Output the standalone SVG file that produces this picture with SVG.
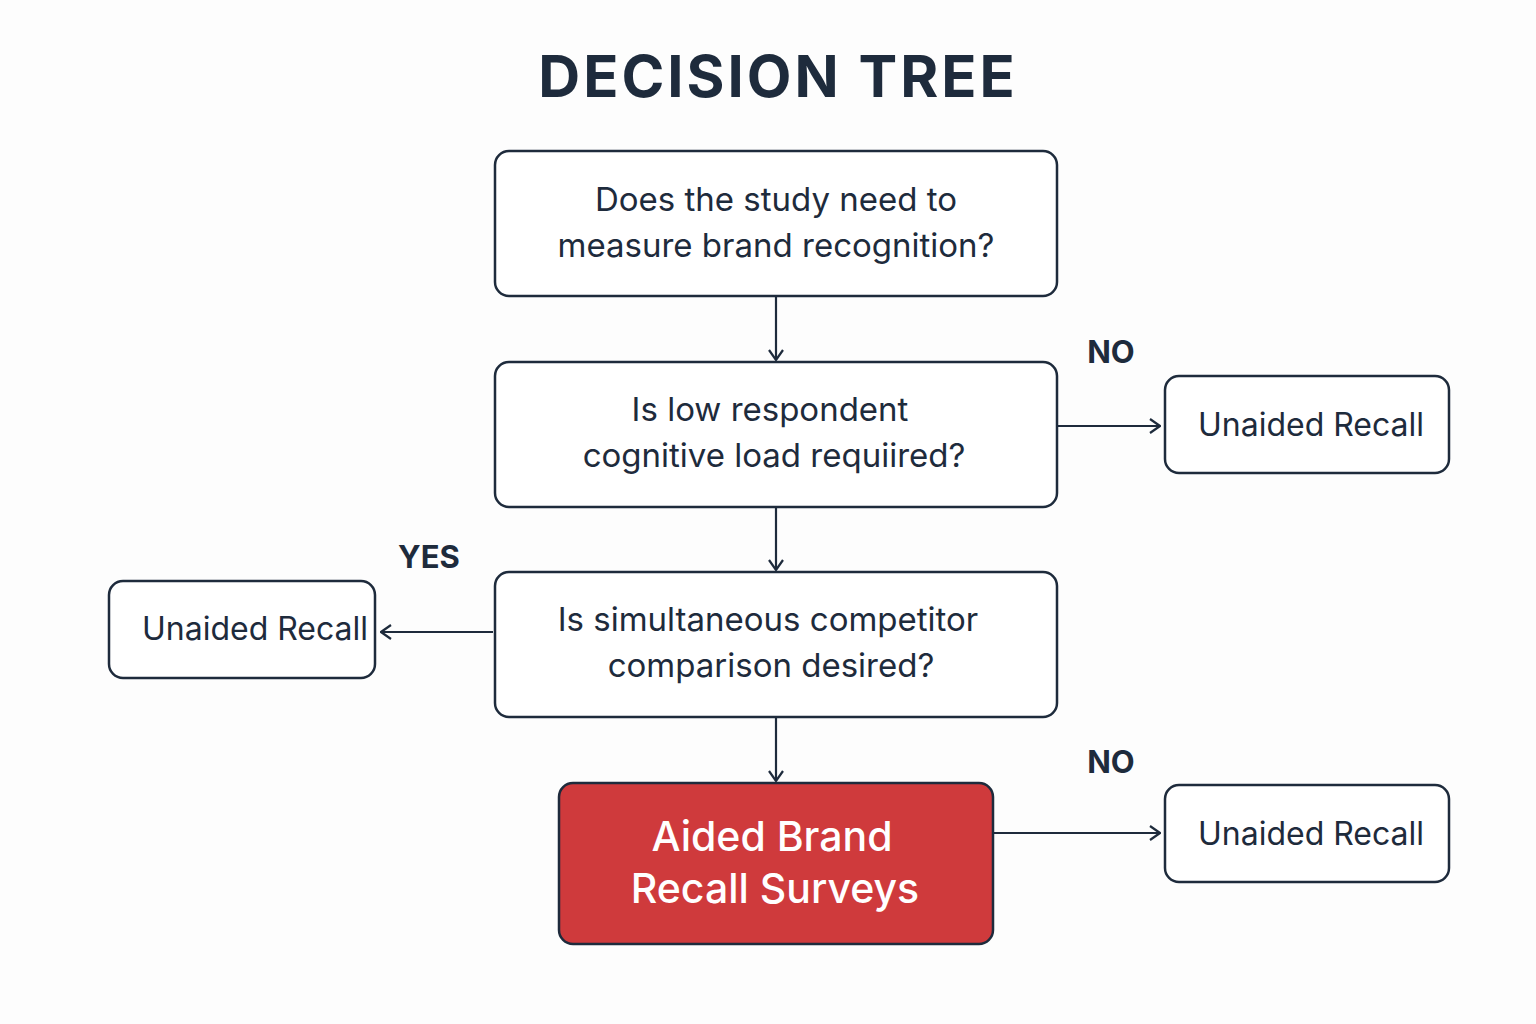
<svg xmlns="http://www.w3.org/2000/svg" width="1536" height="1024" viewBox="0 0 1536 1024">
<defs>
<style>
.box{fill:#fff;stroke:#1e2b3c;stroke-width:2.5}
.t{font-family:Inter,"Noto Sans",sans-serif;fill:#1e2b3c;text-anchor:middle}
.q{font-size:33px}
.r{font-size:32px}
.lbl{font-size:31px;font-weight:700}
.c{stroke:#1e2b3c;stroke-width:2.2;fill:none;marker-end:url(#a)}
</style>
<marker id="a" viewBox="0 0 12 16" refX="11" refY="8" markerWidth="12" markerHeight="16" markerUnits="userSpaceOnUse" orient="auto"><path d="M1,1 L11,8 L1,15" fill="none" stroke="#1e2b3c" stroke-width="2.2"/></marker>
</defs>
<rect width="1536" height="1024" fill="#fdfdfd"/>
<text class="t" x="778" y="97" font-size="58" font-weight="700" letter-spacing="3">DECISION TREE</text>
<g id="connectors">
<path class="c" d="M776,296 V360"/>
<path class="c" d="M776,507 V570"/>
<path class="c" d="M776,717 V781"/>
<path class="c" d="M1057,426 H1160"/>
<path class="c" d="M493,632 H381"/>
<path class="c" d="M993,833 H1160"/>
<text class="t lbl" x="1111" y="363">NO</text>
<text class="t lbl" x="429" y="568">YES</text>
<text class="t lbl" x="1111" y="773">NO</text>
</g>
<g id="q1"><rect class="box" x="495" y="151" width="562" height="145" rx="14"/>
<text class="t q" x="776" y="211">Does the study need to</text><text class="t q" x="776" y="257">measure brand recognition?</text></g>
<g id="q2"><rect class="box" x="495" y="362" width="562" height="145" rx="14"/>
<text class="t q" x="770" y="421">Is low respondent</text><text class="t q" x="774" y="467">cognitive load requiired?</text></g>
<g id="q3"><rect class="box" x="495" y="572" width="562" height="145" rx="14"/>
<text class="t q" x="768" y="631">Is simultaneous competitor</text><text class="t q" x="771" y="677">comparison desired?</text></g>
<g id="result"><rect x="559" y="783" width="434" height="161" rx="14" fill="#cf3a3c" stroke="#1e2b3c" stroke-width="2.5"/>
<text class="t" x="772" y="851" font-size="41" font-weight="500" fill="#fff" style="fill:#fff">Aided Brand</text><text class="t" x="775" y="903" font-size="41" font-weight="500" style="fill:#fff">Recall Surveys</text></g>
<g id="u1"><rect class="box" x="1165" y="376" width="284" height="97" rx="14"/><text class="t r" x="1311" y="436">Unaided Recall</text></g>
<g id="u2"><rect class="box" x="109" y="581" width="266" height="97" rx="14"/><text class="t r" x="255" y="640">Unaided Recall</text></g>
<g id="u3"><rect class="box" x="1165" y="785" width="284" height="97" rx="14"/><text class="t r" x="1311" y="845">Unaided Recall</text></g>
</svg>
